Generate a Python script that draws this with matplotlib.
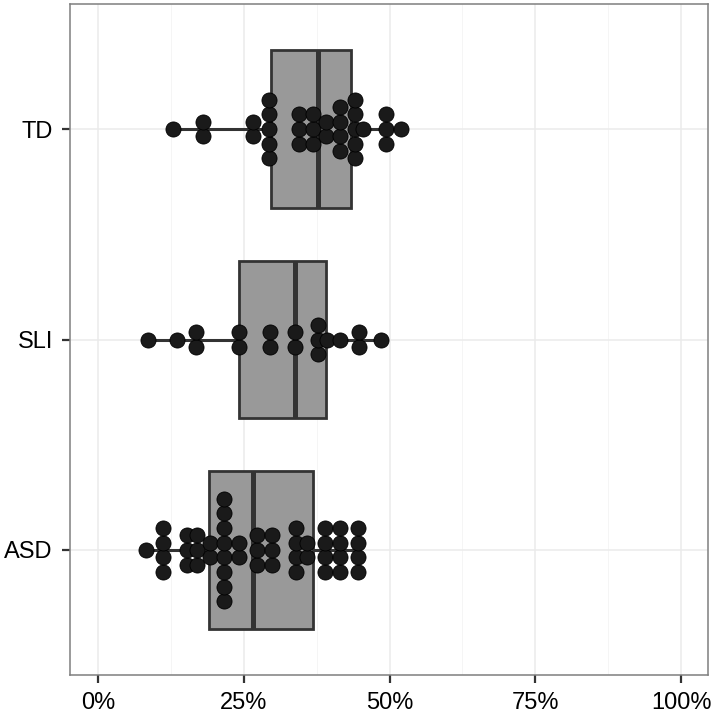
import numpy as np
import matplotlib.pyplot as plt

groups = ["ASD", "SLI", "TD"]

# dot bins (proportion) and how many dots are stacked in each bin
asd_bins = [0.082, 0.112, 0.152, 0.170, 0.192, 0.216, 0.242, 0.272, 0.298, 0.339, 0.358, 0.390, 0.415, 0.445]
asd_counts = [1, 4, 3, 3, 2, 8, 2, 3, 3, 4, 2, 4, 4, 4]
sli_bins = [0.085, 0.135, 0.168, 0.242, 0.295, 0.337, 0.378, 0.392, 0.415, 0.448, 0.485]
sli_counts = [1, 1, 2, 2, 2, 2, 3, 1, 1, 2, 1]
td_bins = [0.128, 0.180, 0.266, 0.293, 0.345, 0.368, 0.391, 0.415, 0.440, 0.455, 0.493, 0.520]
td_counts = [1, 2, 2, 5, 3, 3, 2, 4, 5, 1, 3, 1]

# box stats: whisker low, q1, median, q3, whisker high
asd_box = [0.082, 0.191, 0.265, 0.369, 0.445]
sli_box = [0.085, 0.242, 0.337, 0.391, 0.485]
td_box = [0.128, 0.296, 0.378, 0.434, 0.520]

bins = [asd_bins, sli_bins, td_bins]
counts = [asd_counts, sli_counts, td_counts]
boxes = [asd_box, sli_box, td_box]

fig = plt.figure(figsize=(7.14, 7.13), dpi=100)
ax = fig.add_axes([70 / 714, 38 / 713, 638 / 714, 671 / 713])

dark = "#333333"
stack_step = 0.0698

for i, (b, c, st) in enumerate(zip(bins, counts, boxes)):
    y = i + 1
    lo, q1, med, q3, hi = st
    ax.plot([lo, q1], [y, y], color=dark, lw=2.2, solid_capstyle="butt", zorder=2)
    ax.plot([q3, hi], [y, y], color=dark, lw=2.2, solid_capstyle="butt", zorder=2)
    ax.add_patch(plt.Rectangle((q1, y - 0.375), q3 - q1, 0.75, facecolor="#999999",
                               edgecolor=dark, lw=2.0, zorder=3))
    ax.plot([med, med], [y - 0.375, y + 0.375], color=dark, lw=3.6, solid_capstyle="butt", zorder=4)
    xs, ys = [], []
    for xv, n in zip(b, c):
        for k in range(n):
            xs.append(xv)
            ys.append(y + (k - (n - 1) / 2) * stack_step)
    ax.scatter(xs, ys, s=118, facecolor="#1a1a1a", edgecolor="#000000", lw=0.6, zorder=5)

ax.set_xlim(-0.048, 1.046)
ax.set_ylim(0.406, 3.594)
ax.set_xticks([0, 0.25, 0.5, 0.75, 1.0])
ax.set_xticklabels(["0%", "25%", "50%", "75%", "100%"])
ax.set_xticks([0.125, 0.375, 0.625, 0.875], minor=True)
ax.set_yticks([1, 2, 3])
ax.set_yticklabels(groups)

ax.grid(True, which="major", color="#ebebeb", lw=1.1, zorder=0)
ax.grid(True, which="minor", axis="x", color="#f4f4f4", lw=0.6, zorder=0)
ax.set_axisbelow(True)
ax.tick_params(which="major", length=5.8, width=1.6, color=dark, labelsize=17,
               labelcolor="black")
ax.tick_params(axis="x", which="major", pad=6.5)
ax.tick_params(axis="y", which="major", pad=6.5)
ax.tick_params(which="minor", length=0)
for sp in ax.spines.values():
    sp.set_color("#7f7f7f")
    sp.set_linewidth(1.1)

for lab in ax.get_xticklabels() + ax.get_yticklabels():
    lab.set_fontfamily("Liberation Sans")

fig.savefig("out.png", dpi=100)
